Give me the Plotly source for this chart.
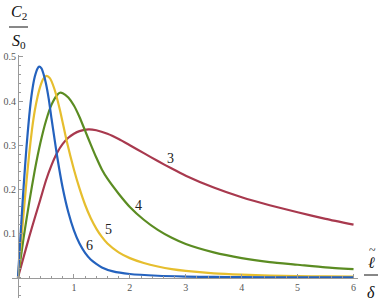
import plotly.graph_objects as go

# ---- data ----
x3 = [0, 0.1, 0.2, 0.3, 0.4, 0.5, 0.6, 0.7, 0.8, 0.9, 1.0, 1.1, 1.26, 1.4, 1.6, 1.8, 2.0, 2.25, 2.5, 2.75, 3.0, 3.5, 4, 4.5, 5, 5.5, 6]
y3 = [0, 0.046, 0.092, 0.135, 0.177, 0.22, 0.255, 0.283, 0.303, 0.317, 0.326, 0.332, 0.336, 0.334, 0.326, 0.314, 0.300, 0.282, 0.264, 0.247, 0.231, 0.204, 0.182, 0.164, 0.148, 0.133, 0.12]

x4 = [0, 0.1, 0.2, 0.3, 0.4, 0.5, 0.6, 0.7, 0.75, 0.8, 0.9, 1.0, 1.1, 1.2, 1.3, 1.4, 1.5, 1.6, 1.8, 2.0, 2.25, 2.5, 2.75, 3.0, 3.5, 4, 4.5, 5, 5.5, 6]
y4 = [0, 0.09, 0.17, 0.243, 0.305, 0.355, 0.392, 0.414, 0.419, 0.418, 0.408, 0.39, 0.364, 0.333, 0.302, 0.272, 0.245, 0.224, 0.19, 0.16, 0.131, 0.108, 0.09, 0.076, 0.057, 0.044, 0.035, 0.029, 0.023, 0.019]

x5 = [0, 0.05, 0.1, 0.15, 0.2, 0.25, 0.3, 0.35, 0.4, 0.45, 0.51, 0.57, 0.65, 0.75, 0.87, 1.0, 1.1, 1.2, 1.3, 1.4, 1.5, 1.6, 1.8, 2.0, 2.25, 2.5, 2.75, 3.0, 3.5, 4, 4.5, 5, 5.5, 6]
y5 = [0, 0.072, 0.145, 0.215, 0.28, 0.335, 0.378, 0.41, 0.434, 0.45, 0.457, 0.452, 0.428, 0.38, 0.31, 0.245, 0.202, 0.165, 0.135, 0.111, 0.092, 0.077, 0.057, 0.044, 0.033, 0.025, 0.019, 0.015, 0.0095, 0.0065, 0.0045, 0.0033, 0.0025, 0.002]

x6 = [0, 0.05, 0.1, 0.15, 0.2, 0.25, 0.3, 0.35, 0.38, 0.42, 0.46, 0.5, 0.55, 0.6, 0.65, 0.7, 0.8, 0.9, 1.0, 1.1, 1.2, 1.3, 1.4, 1.5, 1.7, 2.0, 2.5, 3, 3.5, 4, 5, 6]
y6 = [0, 0.105, 0.205, 0.292, 0.365, 0.42, 0.455, 0.474, 0.478, 0.474, 0.46, 0.44, 0.405, 0.36, 0.317, 0.275, 0.203, 0.148, 0.107, 0.077, 0.056, 0.041, 0.031, 0.023, 0.014, 0.008, 0.004, 0.0022, 0.0013, 0.0008, 0.0004, 0.0002]

series_names = ["3", "4", "5", "6"]
series_x = [x3, x4, x5, x6]
series_y = [y3, y4, y5, y6]
colors = ["#A8394E", "#5B8C22", "#E6BE2E", "#2462BE"]
label_pos = [(2.72, 0.271), (2.15, 0.163), (1.61, 0.108), (1.27, 0.072)]

xticks = [1, 2, 3, 4, 5, 6]
yticks = [0.1, 0.2, 0.3, 0.4, 0.5]

W, H = 383, 306
ML, MR, MT, MB = 12, 25, 55, 8
xr = [-0.107, 6.08]
yr = [-0.0464, 0.5045]

serif = "Liberation Serif, Times New Roman, serif"

fig = go.Figure()
for name, xs, ys, c in zip(series_names, series_x, series_y, colors):
    fig.add_trace(go.Scatter(x=xs, y=ys, mode="lines", name=name,
                             line=dict(color=c, width=2.2, shape="spline", smoothing=0.6),
                             hoverinfo="skip"))

for name, (lx, ly) in zip(series_names, label_pos):
    fig.add_annotation(x=lx, y=ly, xref="x", yref="y", text=name, showarrow=False,
                       xanchor="center", yanchor="middle",
                       font=dict(family=serif, size=14, color="#222"))

axis_common = dict(showgrid=False, zeroline=False, showline=True, linecolor="#9a9a9a",
                   linewidth=1, ticks="inside", tickcolor="#9a9a9a", ticklen=4, tickwidth=1,
                   tickfont=dict(family=serif, size=10, color="#555"), anchor="free",
                   automargin=False)

fig.update_layout(
    width=W, height=H,
    margin=dict(l=ML, r=MR, t=MT, b=MB, autoexpand=False),
    paper_bgcolor="white", plot_bgcolor="white",
    font=dict(family=serif),
    showlegend=False,
    xaxis=dict(range=xr, tickvals=xticks, ticktext=[str(v) for v in xticks],
               position=(0 - yr[0]) / (yr[1] - yr[0]),
               minor=dict(ticks="inside", dtick=0.2, ticklen=2, tickcolor="#9a9a9a"),
               **axis_common),
    yaxis=dict(range=yr, tickvals=yticks, ticktext=[str(v) for v in yticks],
               position=(0 - xr[0]) / (xr[1] - xr[0]),
               minor=dict(ticks="inside", dtick=0.02, ticklen=2, tickcolor="#9a9a9a"),
               **axis_common),
)

pw = W - ML - MR
ph = H - MT - MB


def px(xpix):
    return (xpix - ML) / pw


def py(ypix):
    return (H - MB - ypix) / ph


for text, xp, yp, sz in [("<i>C</i><sub>2</sub>", 19, 13, 16),
                         ("<i>S</i><sub>0</sub>", 19, 41, 16),
                         ("<i>ℓ</i>", 371, 262, 16),
                         ("~", 372, 250, 12),
                         ("<i>δ</i>", 371, 292, 16)]:
    fig.add_annotation(x=px(xp), y=py(yp), xref="paper", yref="paper", text=text,
                       showarrow=False, xanchor="center", yanchor="middle",
                       font=dict(family=serif, size=sz, color="#111"))

fig.add_shape(type="line", xref="paper", yref="paper",
              x0=px(9), x1=px(28), y0=py(27), y1=py(27), line=dict(color="#111", width=1))
fig.add_shape(type="line", xref="paper", yref="paper",
              x0=px(364), x1=px(378), y0=py(275), y1=py(275), line=dict(color="#111", width=1))

fig.write_html("out.html", config={"displayModeBar": False},
               post_script="document.body.style.margin='0';")
